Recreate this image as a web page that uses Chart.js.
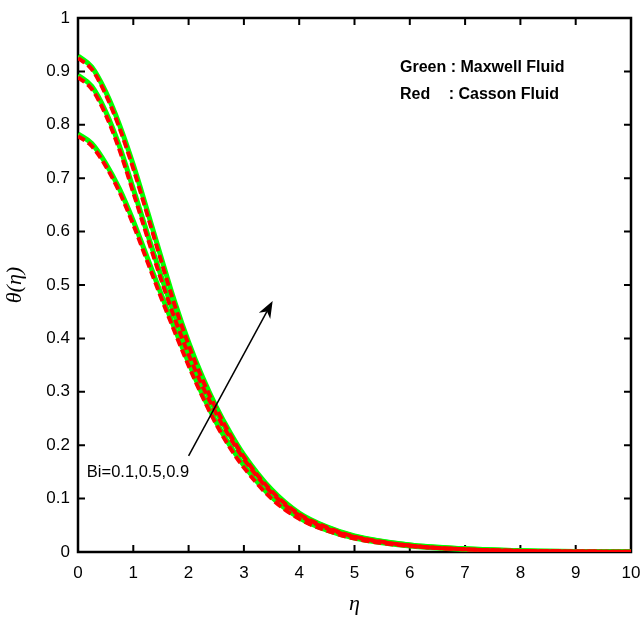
<!DOCTYPE html>
<html>
<head>
<meta charset="utf-8">
<script src="https://cdn.jsdelivr.net/npm/chart.js@4/dist/chart.umd.min.js"></script>
<style>
  html, body { margin: 0; padding: 0; background: #fff; }
  #wrap { width: 642px; height: 619px; }
</style>
</head>
<body>
<div id="wrap"><canvas id="c" width="642" height="619"></canvas></div>
<script>
// Similarity variable eta
const eta = [0, 0.25, 0.5, 0.75, 1, 1.25, 1.5, 1.75, 2, 2.25, 2.5, 2.75, 3, 3.5, 4, 4.5, 5, 6, 7, 8, 9, 10];

// Temperature profiles theta(eta), Maxwell fluid (green)
const maxwellBi09 = [0.929, 0.908, 0.862, 0.800, 0.725, 0.640, 0.553, 0.468, 0.393, 0.328, 0.272, 0.224, 0.182, 0.117, 0.073, 0.047, 0.030, 0.013, 0.006, 0.0025, 0.001, 0.0003];
const maxwellBi05 = [0.893, 0.872, 0.825, 0.760, 0.680, 0.598, 0.518, 0.443, 0.376, 0.316, 0.263, 0.218, 0.178, 0.114, 0.071, 0.046, 0.029, 0.013, 0.006, 0.0025, 0.001, 0.0003];
const maxwellBi01 = [0.783, 0.765, 0.728, 0.680, 0.620, 0.552, 0.484, 0.418, 0.355, 0.295, 0.243, 0.199, 0.162, 0.103, 0.064, 0.041, 0.026, 0.011, 0.005, 0.002, 0.001, 0.0003];

// Temperature profiles theta(eta), Casson fluid (red)
const cassonBi09 = [0.925, 0.904, 0.857, 0.794, 0.718, 0.633, 0.546, 0.462, 0.388, 0.323, 0.268, 0.220, 0.178, 0.114, 0.071, 0.046, 0.029, 0.012, 0.005, 0.002, 0.001, 0.0003];
const cassonBi05 = [0.889, 0.867, 0.819, 0.753, 0.673, 0.591, 0.511, 0.437, 0.370, 0.311, 0.259, 0.214, 0.174, 0.111, 0.069, 0.044, 0.028, 0.012, 0.005, 0.002, 0.001, 0.0003];
const cassonBi01 = [0.779, 0.760, 0.723, 0.674, 0.613, 0.545, 0.477, 0.412, 0.349, 0.291, 0.239, 0.195, 0.158, 0.100, 0.062, 0.040, 0.025, 0.011, 0.005, 0.002, 0.001, 0.0003];

// Tick labels
const xTicks = [0, 1, 2, 3, 4, 5, 6, 7, 8, 9, 10];
const xTickLabels = ['0', '1', '2', '3', '4', '5', '6', '7', '8', '9', '10'];
const yTicks = [0, 0.1, 0.2, 0.3, 0.4, 0.5, 0.6, 0.7, 0.8, 0.9, 1];
const yTickLabels = ['0', '0.1', '0.2', '0.3', '0.4', '0.5', '0.6', '0.7', '0.8', '0.9', '1'];

// Annotation: arrow in data coordinates and its label
const arrowFrom = { x: 2.0, y: 0.18 };
const arrowTo = { x: 3.52, y: 0.47 };
const biLabel = { text: 'Bi=0.1,0.5,0.9', x: 0.16, y: 0.14 };

const toXY = ys => eta.map((x, i) => ({ x, y: ys[i] }));

const GREEN = '#00ff00';
const RED = '#ff0000';

// Green solid curves drawn underneath (higher order), red dashed on top
function greenSet(ys) {
  return { data: toXY(ys), borderColor: GREEN, borderWidth: 5, pointRadius: 0,
           cubicInterpolationMode: 'monotone', fill: false, order: 2 };
}
function redSet(ys) {
  return { data: toXY(ys), borderColor: RED, borderWidth: 4, borderDash: [8, 4],
           pointRadius: 0, cubicInterpolationMode: 'monotone', fill: false, order: 1 };
}

// Frame with inward ticks on all four sides
const framePlugin = {
  id: 'frame',
  beforeDatasetsDraw(chart) {
    const { ctx, chartArea: a, scales: { x, y } } = chart;
    ctx.save();
    ctx.strokeStyle = '#000';
    ctx.lineWidth = 2;
    const tl = 7;
    ctx.beginPath();
    xTicks.forEach(v => {
      const px = x.getPixelForValue(v);
      ctx.moveTo(px, a.bottom); ctx.lineTo(px, a.bottom - tl);
      ctx.moveTo(px, a.top); ctx.lineTo(px, a.top + tl);
    });
    yTicks.forEach(v => {
      const py = y.getPixelForValue(v);
      ctx.moveTo(a.left, py); ctx.lineTo(a.left + tl, py);
      ctx.moveTo(a.right, py); ctx.lineTo(a.right - tl, py);
    });
    ctx.stroke();
    ctx.lineWidth = 2.5;
    ctx.strokeRect(a.left, a.top, a.right - a.left, a.bottom - a.top);
    ctx.restore();
  },
  afterDraw(chart) {
    const { ctx, chartArea: a, scales: { x, y } } = chart;
    ctx.save();
    // Legend text
    ctx.fillStyle = '#000';
    ctx.font = 'bold 16px "Liberation Sans", Arial, sans-serif';
    ctx.textBaseline = 'alphabetic';
    ctx.textAlign = 'left';
    const lx = a.left + 322;
    ctx.fillText('Green : Maxwell Fluid', lx, a.top + 54);
    ctx.fillText('Red', lx, a.top + 81);
    const off = ctx.measureText('Green ').width;
    ctx.fillText(': Casson Fluid', lx + off - 2, a.top + 81);

    // Bi label
    ctx.font = '16.5px "Liberation Sans", Arial, sans-serif';
    ctx.fillText(biLabel.text, x.getPixelForValue(biLabel.x), y.getPixelForValue(biLabel.y));

    // Arrow
    const x0 = x.getPixelForValue(arrowFrom.x), y0 = y.getPixelForValue(arrowFrom.y);
    const x1 = x.getPixelForValue(arrowTo.x), y1 = y.getPixelForValue(arrowTo.y);
    const ang = Math.atan2(y1 - y0, x1 - x0);
    const hl = 17, hw = 6.5;
    ctx.strokeStyle = '#000';
    ctx.lineWidth = 1.5;
    ctx.beginPath();
    ctx.moveTo(x0, y0);
    ctx.lineTo(x1 - Math.cos(ang) * hl * 0.7, y1 - Math.sin(ang) * hl * 0.7);
    ctx.stroke();
    const bx = x1 - Math.cos(ang) * hl, by = y1 - Math.sin(ang) * hl;
    const nx = -Math.sin(ang), ny = Math.cos(ang);
    const mx = x1 - Math.cos(ang) * hl * 0.7, my = y1 - Math.sin(ang) * hl * 0.7;
    ctx.fillStyle = '#000';
    ctx.beginPath();
    ctx.moveTo(x1, y1);
    ctx.lineTo(bx + nx * hw, by + ny * hw);
    ctx.lineTo(mx, my);
    ctx.lineTo(bx - nx * hw, by - ny * hw);
    ctx.closePath();
    ctx.fill();
    ctx.restore();
  }
};

new Chart(document.getElementById('c'), {
  type: 'line',
  data: {
    datasets: [
      redSet(cassonBi09), redSet(cassonBi05), redSet(cassonBi01),
      greenSet(maxwellBi09), greenSet(maxwellBi05), greenSet(maxwellBi01)
    ]
  },
  options: {
    responsive: false,
    animation: false,
    devicePixelRatio: 1,
    layout: { padding: { top: 18, right: 11, left: 0, bottom: 0 } },
    plugins: { legend: { display: false }, tooltip: { enabled: false } },
    scales: {
      x: {
        type: 'linear', min: 0, max: 10,
        afterFit: s => { s.height = 67; s.paddingLeft = 0; s.paddingRight = 0; },
        afterBuildTicks: s => { s.ticks = xTicks.map(v => ({ value: v })); },
        ticks: {
          color: '#000', font: { family: '"Liberation Sans", Arial, sans-serif', size: 17 },
          padding: 11, maxRotation: 0,
          callback: (v) => xTickLabels[xTicks.indexOf(v)]
        },
        grid: { display: false, drawTicks: false },
        border: { display: false },
        title: {
          display: true, text: 'η', color: '#000',
          font: { family: '"Liberation Serif", "DejaVu Serif", serif', size: 22, style: 'italic' },
          padding: { top: 0, bottom: 2 }
        }
      },
      y: {
        type: 'linear', min: 0, max: 1,
        afterFit: s => { s.width = 78; s.paddingTop = 0; s.paddingBottom = 0; },
        afterBuildTicks: s => { s.ticks = yTicks.map(v => ({ value: v })); },
        ticks: {
          color: '#000', font: { family: '"Liberation Sans", Arial, sans-serif', size: 17 },
          padding: 8,
          callback: (v) => yTickLabels[yTicks.findIndex(t => Math.abs(t - v) < 1e-9)]
        },
        grid: { display: false, drawTicks: false },
        border: { display: false },
        title: {
          display: true, text: 'θ(η)', color: '#000',
          font: { family: '"Liberation Serif", "DejaVu Serif", serif', size: 22, style: 'italic' },
          padding: { top: 2, bottom: 0 }
        }
      }
    }
  },
  plugins: [framePlugin]
});
</script>
</body>
</html>
